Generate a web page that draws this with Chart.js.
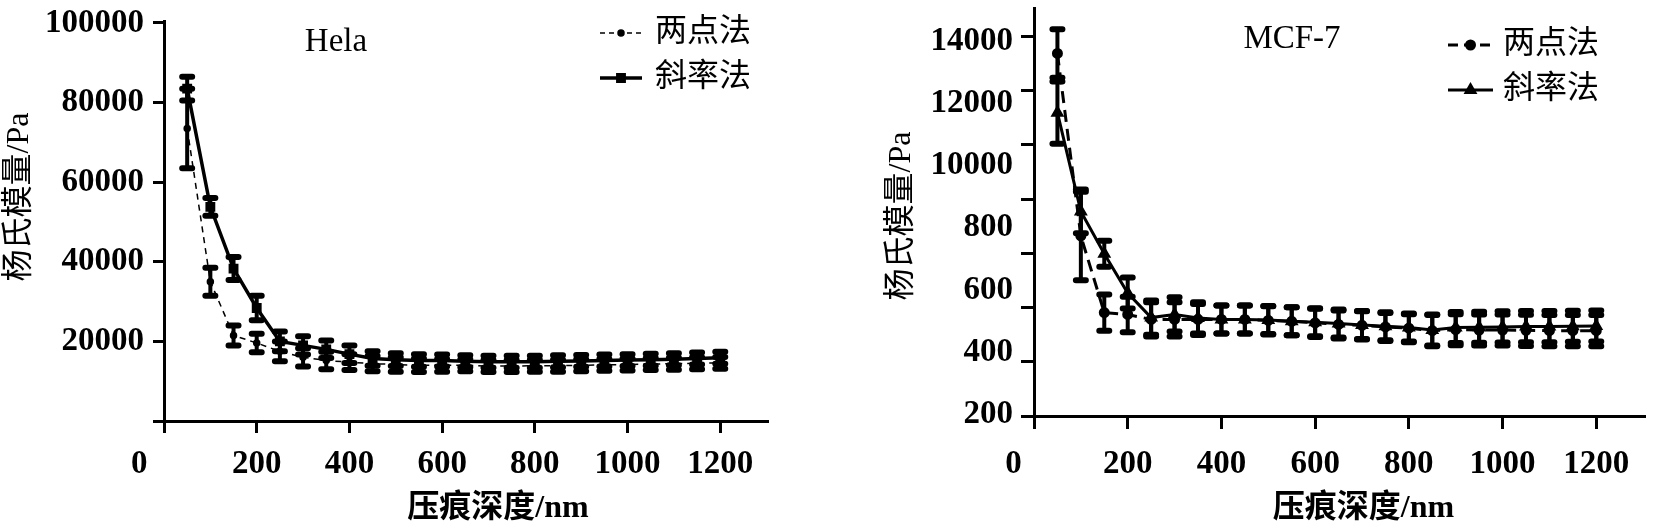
<!DOCTYPE html>
<html lang="zh">
<head>
<meta charset="UTF-8">
<title>杨氏模量与压痕深度</title>
<script src="https://cdn.jsdelivr.net/npm/chart.js"></script>
<style>
  body { margin: 0; background: #fff; }
  #wrap { position: relative; width: 1653px; height: 524px; overflow: hidden; }
  #wrap canvas { position: absolute; top: 0; }
</style>
</head>
<body>
<div id="wrap">
  <canvas id="chart_hela" width="830" height="524" style="left:0"></canvas>
  <canvas id="chart_mcf" width="823" height="524" style="left:830px"></canvas>
</div>
<script>
// 压痕深度 /nm
var depth = [50, 100, 150, 200, 250, 300, 350, 400, 450, 500, 550, 600,
             650, 700, 750, 800, 850, 900, 950, 1000, 1050, 1100, 1150, 1200];
var xTicks = [0, 200, 400, 600, 800, 1000, 1200];

// Hela
var helaTwoPoint = [73500, 35000, 21500, 19600, 17500, 16000, 15200, 14800, 14400, 14200, 14000, 14000,
                    14000, 13800, 13800, 13900, 13900, 14000, 14100, 14200, 14300, 14400, 14500, 14600];
var helaTwoPointErr = [10000, 3500, 2500, 2300, 2500, 2300, 2200, 2000, 1900, 1800, 1700, 1600,
                       1500, 1500, 1500, 1500, 1500, 1500, 1500, 1500, 1500, 1500, 1500, 1500];
var helaSlope = [83500, 53800, 38300, 28400, 20000, 19000, 18000, 16800, 15700, 15400, 15200, 15200,
                 15000, 14900, 14900, 14900, 15000, 15100, 15200, 15300, 15400, 15500, 15700, 15900];
var helaSlopeErr = [3000, 2200, 2900, 3100, 2500, 2300, 2200, 2200, 1800, 1600, 1600, 1500,
                    1500, 1500, 1500, 1500, 1500, 1500, 1500, 1500, 1500, 1500, 1500, 1500];
var helaYTicks = [0, 20000, 40000, 60000, 80000, 100000];

// MCF-7
var mcfTwoPoint = [13600, 7740, 5280, 5220, 5060, 5060, 5060, 5060, 5060, 5030, 5000, 4950,
                   4900, 4870, 4820, 4780, 4700, 4730, 4720, 4720, 4710, 4700, 4700, 4700];
var mcfTwoPointErr = [780, 1420, 580, 570, 550, 550, 500, 450, 450, 450, 450, 450,
                      450, 450, 450, 450, 500, 500, 500, 500, 500, 500, 500, 500];
var mcfSlope = [11700, 8530, 7170, 5910, 5120, 5220, 5110, 5060, 5060, 5040, 5000, 4970,
                4930, 4880, 4840, 4800, 4720, 4800, 4810, 4820, 4830, 4830, 4840, 4850];
var mcfSlopeErr = [1000, 700, 420, 500, 550, 550, 500, 450, 450, 450, 450, 450,
                   450, 450, 450, 450, 500, 500, 500, 500, 500, 500, 500, 500];
var mcfYLabelPos = [2000, 4000, 6000, 8000, 10000, 12000, 14000];
var mcfYTickLabels = ['200', '400', '600', '800', '10000', '12000', '14000'];
var mcfYTickMarks = [0, 2000, 4000, 6000, 8000, 10000, 12000, 14000];

var serif = '"Liberation Serif", "Times New Roman", serif';
var cjk = '"Liberation Serif", "Noto Sans CJK SC", serif';

Chart.defaults.color = '#000';
Chart.defaults.font.family = serif;

function toPoints(xs, ys) {
    return ys.map(function (v, i) { return { x: xs[i], y: v }; });
}

// 固定纵轴宽度，不让刻度标签把绘图区往下推
function fixWidth(w) {
    return function (axis) {
        axis.width = w;
        axis.paddingTop = 0;
        axis.paddingBottom = 0;
    };
}

// 误差线
var errorBars = {
    id: 'errorBars',
    afterDatasetsDraw: function (chart) {
        var ctx = chart.ctx;
        chart.data.datasets.forEach(function (ds, i) {
            if (!ds.errors) return;
            var meta = chart.getDatasetMeta(i);
            var xs = chart.scales[meta.xAxisID];
            var ys = chart.scales[meta.yAxisID];
            ctx.save();
            ctx.strokeStyle = '#000';
            ctx.lineCap = 'round';
            ds.data.forEach(function (p, j) {
                var x = xs.getPixelForValue(p.x);
                var y1 = ys.getPixelForValue(p.y + ds.errors[j]);
                var y2 = ys.getPixelForValue(p.y - ds.errors[j]);
                ctx.lineWidth = 4;
                ctx.beginPath();
                ctx.moveTo(x, y1);
                ctx.lineTo(x, y2);
                ctx.stroke();
                ctx.lineWidth = 6;
                ctx.beginPath();
                ctx.moveTo(x - 5, y1); ctx.lineTo(x + 5, y1);
                ctx.moveTo(x - 5, y2); ctx.lineTo(x + 5, y2);
                ctx.stroke();
            });
            ctx.restore();
        });
    }
};

// 图名和图例
var panelText = {
    id: 'panelText',
    afterDraw: function (chart, args, opts) {
        var ctx = chart.ctx;
        ctx.save();
        ctx.fillStyle = '#000';
        ctx.strokeStyle = '#000';
        ctx.textBaseline = 'middle';
        ctx.textAlign = 'center';
        ctx.font = '33px ' + serif;
        ctx.fillText(opts.title, opts.titleX, opts.titleY);
        ctx.textAlign = 'left';
        ctx.font = '32px ' + cjk;
        chart.data.datasets.forEach(function (ds, i) {
            var y = opts.legendY[i];
            var x0 = opts.legendX;
            ctx.lineWidth = ds.borderWidth;
            ctx.setLineDash(opts.legendDash[i]);
            ctx.beginPath();
            ctx.moveTo(x0, y);
            ctx.lineTo(x0 + opts.symbolWidth, y);
            ctx.stroke();
            ctx.setLineDash([]);
            if (Chart.helpers && Chart.helpers.drawPoint) {
                Chart.helpers.drawPoint(ctx, { pointStyle: ds.pointStyle, radius: ds.pointRadius, borderWidth: 1, rotation: 0 },
                    x0 + opts.symbolWidth / 2, y);
            }
            ctx.fillText(ds.label, x0 + opts.symbolWidth + opts.gap, y);
        });
        ctx.restore();
    }
};

var tickFont = { family: serif, size: 33, weight: 'bold' };

var ctx_hela = document.getElementById('chart_hela').getContext('2d');
var chart_hela = new Chart(ctx_hela, {
    type: 'line',
    data: {
        datasets: [{
            label: '两点法',
            data: toPoints(depth, helaTwoPoint),
            errors: helaTwoPointErr,
            borderColor: '#000',
            backgroundColor: '#000',
            borderWidth: 1.5,
            borderDash: [6, 5],
            pointStyle: 'circle',
            pointRadius: 3
        }, {
            label: '斜率法',
            data: toPoints(depth, helaSlope),
            errors: helaSlopeErr,
            borderColor: '#000',
            backgroundColor: '#000',
            borderWidth: 3.5,
            pointStyle: 'rect',
            pointRadius: 4.5
        }]
    },
    options: {
        responsive: false,
        animation: false,
        layout: { padding: { top: 21, right: 62, left: 0, bottom: 0 } },
        plugins: {
            legend: { display: false },
            tooltip: { enabled: false },
            panelText: {
                title: 'Hela', titleX: 336, titleY: 42,
                legendX: 600, legendY: [33, 78], legendDash: [[5, 4], []],
                symbolWidth: 42, gap: 13
            }
        },
        scales: {
            x: {
                type: 'linear', min: 0, max: 1303,
                afterBuildTicks: function (axis) { axis.ticks = xTicks.map(function (v) { return { value: v }; }); },
                afterFit: function (axis) { axis.height = 103; },
                border: { color: '#000', width: 3 },
                grid: { drawOnChartArea: false, tickLength: 12, tickWidth: 3, tickColor: '#000' },
                ticks: {
                    font: tickFont, padding: 12, autoSkip: false, maxRotation: 0,
                    callback: function (v) { return v === 0 ? '0\u2003\u2002' : String(v); }
                },
                title: {
                    display: true, text: '\u3000\u3000压痕深度/nm',
                    font: { family: cjk, size: 32, weight: 'bold' },
                    padding: { top: 0, bottom: -4 }
                }
            },
            y: {
                min: 0, max: 100500,
                afterBuildTicks: function (axis) { axis.ticks = helaYTicks.map(function (v) { return { value: v }; }); },
                afterFit: fixWidth(164),
                border: { color: '#000', width: 3 },
                grid: { drawOnChartArea: false, tickLength: 11, tickWidth: 3, tickColor: '#000' },
                ticks: {
                    font: tickFont, padding: 9,
                    callback: function (v) { return v === 0 ? '' : String(v); }
                },
                title: {
                    display: true, text: '\u3000  杨氏模量/Pa',
                    font: { family: cjk, size: 32 },
                    padding: { top: 0, bottom: 0 }
                }
            }
        }
    },
    plugins: [errorBars, panelText]
});

var ctx_mcf = document.getElementById('chart_mcf').getContext('2d');
var chart_mcf = new Chart(ctx_mcf, {
    type: 'line',
    data: {
        datasets: [{
            label: '两点法',
            data: toPoints(depth, mcfTwoPoint),
            errors: mcfTwoPointErr,
            borderColor: '#000',
            backgroundColor: '#000',
            borderWidth: 3,
            borderDash: [12, 7],
            pointStyle: 'circle',
            pointRadius: 4,
            yAxisID: 'y'
        }, {
            label: '斜率法',
            data: toPoints(depth, mcfSlope),
            errors: mcfSlopeErr,
            borderColor: '#000',
            backgroundColor: '#000',
            borderWidth: 3,
            pointStyle: 'triangle',
            pointRadius: 5,
            yAxisID: 'y'
        }]
    },
    options: {
        responsive: false,
        animation: false,
        layout: { padding: { top: 3, right: 0, left: 0, bottom: 0 } },
        plugins: {
            legend: { display: false },
            tooltip: { enabled: false },
            panelText: {
                title: 'MCF-7', titleX: 462, titleY: 39,
                legendX: 618, legendY: [45, 90], legendDash: [[10, 6], []],
                symbolWidth: 45, gap: 10
            }
        },
        scales: {
            x: {
                type: 'linear', min: 0, max: 1304,
                afterBuildTicks: function (axis) { axis.ticks = xTicks.map(function (v) { return { value: v }; }); },
                afterFit: function (axis) { axis.height = 108; },
                border: { color: '#000', width: 3 },
                grid: { drawOnChartArea: false, tickLength: 13, tickWidth: 3, tickColor: '#000' },
                ticks: {
                    font: tickFont, padding: 16, autoSkip: false, maxRotation: 0,
                    callback: function (v) { return v === 0 ? '0\u2003 ' : String(v); }
                },
                title: {
                    display: true, text: '\u3000\u2002压痕深度/nm',
                    font: { family: cjk, size: 32, weight: 'bold' },
                    padding: { top: 0, bottom: -4 }
                }
            },
            // 刻度标签轴
            y: {
                position: 'left', weight: 1,
                min: 1960, max: 15060,
                afterBuildTicks: function (axis) { axis.ticks = mcfYLabelPos.map(function (v) { return { value: v }; }); },
                afterFit: fixWidth(190),
                border: { display: false },
                grid: { display: false, drawTicks: false },
                ticks: {
                    font: tickFont, padding: 7,
                    callback: function (v, i) { return mcfYTickLabels[i]; }
                },
                title: {
                    display: true, text: '杨氏模量/Pa ',
                    font: { family: cjk, size: 32 },
                    padding: { top: 52, bottom: 0 }
                }
            },
            // 刻度线轴
            yt: {
                position: 'left', weight: 0,
                min: 0, max: 15046,
                afterBuildTicks: function (axis) { axis.ticks = mcfYTickMarks.map(function (v) { return { value: v }; }); },
                afterFit: fixWidth(14),
                border: { color: '#000', width: 3 },
                grid: { drawOnChartArea: false, tickLength: 13, tickWidth: 3, tickColor: '#000' },
                ticks: { display: false }
            }
        }
    },
    plugins: [errorBars, panelText]
});
</script>
</body>
</html>
